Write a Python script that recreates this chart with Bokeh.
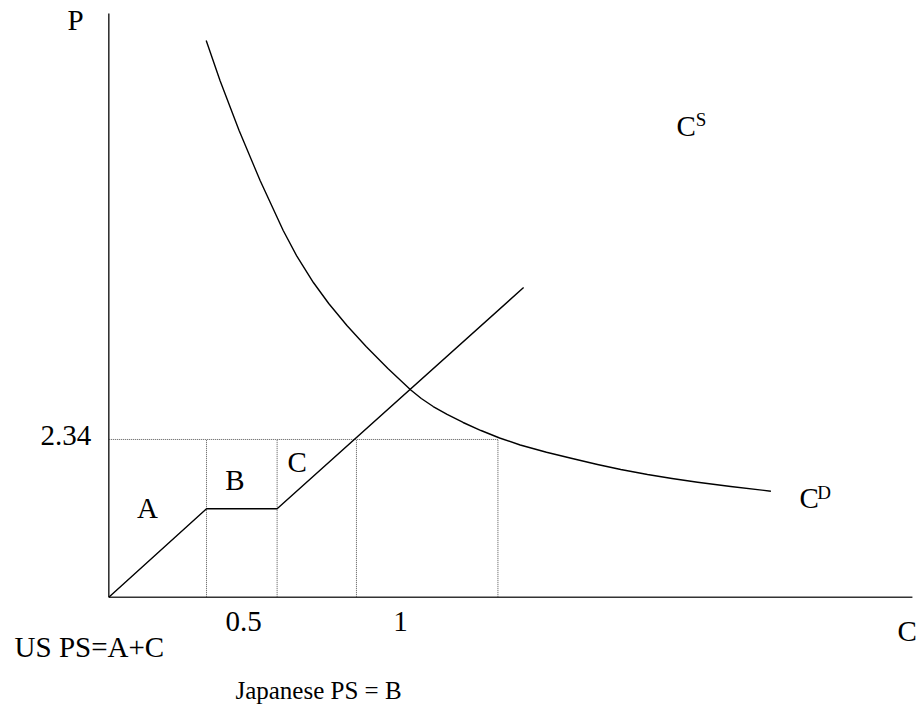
from bokeh.plotting import figure
from bokeh.models import Range1d
from bokeh.core.properties import value
from bokeh.embed import file_html
from bokeh.resources import INLINE

# Quantity (C) and price (P) values of the two curves
supply_c = [0.0, 0.335, 0.577, 1.422]
supply_p = [0.0, 1.312, 1.312, 4.595]

demand_c = [0.3339, 0.3812, 0.4467, 0.5187, 0.5979, 0.6452, 0.7014, 0.7539,
            0.8163, 0.8821, 0.9568, 1.0353, 1.0713, 1.1121, 1.1598, 1.2146,
            1.2760, 1.3397, 1.4104, 1.5005, 1.5886, 1.6754, 1.7552, 1.8468,
            1.9307, 2.0185, 2.1320, 2.2698]
demand_p = [8.260, 7.666, 6.924, 6.182, 5.440, 5.055, 4.669, 4.358,
            4.031, 3.720, 3.393, 3.074, 2.948, 2.829, 2.711, 2.592,
            2.473, 2.362, 2.258, 2.151, 2.058, 1.969, 1.895, 1.820,
            1.761, 1.706, 1.642, 1.573]

# Price line and the quantity markers beneath it
price_level = 2.34
quantity_marks = [0.335, 0.577, 0.849, 1.334]

# Axis extents
c_max = 2.755
p_max = 8.66

# Labels: text, position (C, P), size, alignment
labels = [
    ("P", -0.1416, 8.567, "29px", "left"),
    ("2.34", -0.234, 2.395, "29px", "left"),
    ("A", 0.1327, 1.326, "29px", "center"),
    ("B", 0.4326, 1.742, "29px", "center"),
    ("C", 0.6126, 2.009, "29px", "left"),
    ("0.5", 0.4618, -0.365, "29px", "center"),
    ("1", 1.0, -0.365, "29px", "center"),
    ("US PS=A+C", -0.323, -0.736, "29px", "left"),
    ("Japanese PS = B", 0.434, -1.387, "25px", "left"),
    ("C", 2.704, -0.499, "29px", "left"),
    ("C", 1.946, 6.994, "29px", "left"),
    ("S", 2.012, 7.092, "19px", "left"),
    ("C", 2.368, 1.475, "29px", "left"),
    ("D", 2.429, 1.558, "19px", "left"),
]

W, H = 917, 709
ox, oy = 108.3, 596.7      # origin on the canvas
sx, sy = 291.7, 67.4       # pixels per unit

p = figure(width=W, height=H, output_backend="svg", toolbar_location=None,
           x_axis_type=None, y_axis_type=None, min_border=0,
           x_range=Range1d(-ox / sx, (W - ox) / sx),
           y_range=Range1d(-(H - oy) / sy, oy / sy))
p.grid.visible = False
p.outline_line_color = None
p.background_fill_color = "white"
p.border_fill_color = "white"

# Dotted guide lines
p.segment(x0=[0.0], y0=[price_level], x1=[max(quantity_marks)], y1=[price_level],
          line_color="#555555", line_width=1, line_dash="1 1")
p.segment(x0=quantity_marks, y0=[0.0] * len(quantity_marks),
          x1=quantity_marks, y1=[price_level] * len(quantity_marks),
          line_color="#555555", line_width=1, line_dash="1 1")

# Axes
p.segment(x0=[0.0, 0.0], y0=[0.0, 0.0], x1=[c_max, 0.0], y1=[0.0, p_max],
          line_color="#333333", line_width=1.6)

# Curves
p.line(supply_c, supply_p, line_color="black", line_width=1.4)
p.line(demand_c, demand_p, line_color="black", line_width=1.4,
       line_join="round")

for txt, x, y, size, align in labels:
    p.text(x=[x], y=[y], text=[txt], text_font=value("Liberation Serif"),
           text_font_size=size, text_align=align, text_baseline="alphabetic",
           text_color="black")

open("out.html", "w").write(file_html(p, INLINE))
